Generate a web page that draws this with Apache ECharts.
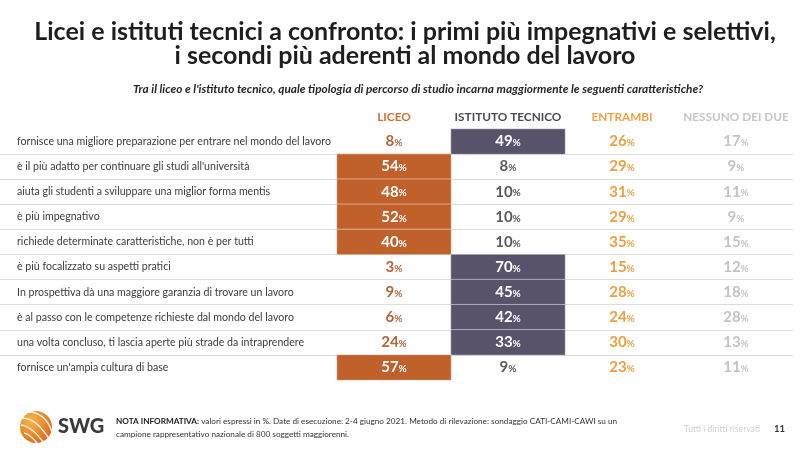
<!DOCTYPE html>
<html><head><meta charset="utf-8">
<script src="https://cdn.jsdelivr.net/npm/echarts@6/dist/echarts.min.js"></script>
<style>html,body{margin:0;padding:0;background:#fff}#c{width:800px;height:449px}</style>
</head><body><div id="c"></div>
<script>
var rows = [
  "fornisce una migliore preparazione per entrare nel mondo del lavoro",
  "è il più adatto per continuare gli studi all'università",
  "aiuta gli studenti a sviluppare una miglior forma mentis",
  "è più impegnativo",
  "richiede determinate caratteristiche, non è per tutti",
  "è più focalizzato su aspetti pratici",
  "In prospettiva dà una maggiore garanzia di trovare un lavoro",
  "è al passo con le competenze richieste dal mondo del lavoro",
  "una volta concluso, ti lascia aperte più strade da intraprendere",
  "fornisce un'ampia cultura di base"
];
var columns = ["LICEO", "ISTITUTO TECNICO", "ENTRAMBI", "NESSUNO DEI DUE"];
var liceo     = [8, 54, 48, 52, 40, 3, 9, 6, 24, 57];
var istituto  = [49, 8, 10, 10, 10, 70, 45, 42, 33, 9];
var entrambi  = [26, 29, 31, 29, 35, 15, 28, 24, 30, 23];
var nessuno   = [17, 9, 11, 9, 15, 12, 18, 28, 13, 11];

var FONT = 'Lato';
var headerColors = ['#c8733a', '#4a4a55', '#eba248', '#c6c6c6'];
var textColors = ['#b4653c', '#5a5a5a', '#e9a045', '#c4c4c4'];
var fillColors = ['#c0602a', '#58536a'];
var cols = [liceo, istituto, entrambi, nessuno];

var data = [];
for (var r = 0; r < rows.length; r++) {
  var mx = Math.max(liceo[r], istituto[r], entrambi[r], nessuno[r]);
  for (var c = 0; c < 4; c++) {
    var v = cols[c][r];
    var filled = c < 2 && v === mx;
    var col = filled ? '#ffffff' : textColors[c];
    data.push({
      value: [c, r, v],
      itemStyle: filled ? { color: fillColors[c], borderColor: 'rgba(255,255,255,0.45)', borderWidth: 1 }
                        : { color: 'rgba(0,0,0,0)', borderWidth: 0 },
      label: {
        rich: {
          v: { color: col, fontFamily: FONT, fontWeight: 'bold', fontSize: 15 },
          p: { color: col, fontFamily: FONT, fontWeight: 'bold', fontSize: 10, padding: [3, 0, 0, 0] }
        }
      }
    });
  }
}

var chart = echarts.init(document.getElementById('c'), null, { renderer: 'canvas' });
var split = { show: true, showMinLine: false, showMaxLine: false, interval: 0, lineStyle: { color: '#dcdcdc', width: 1 } };

chart.setOption({
  backgroundColor: '#ffffff',
  animation: false,
  title: [
    {
      text: 'Licei e istituti tecnici a confronto: i primi più impegnativi e selettivi,\ni secondi più aderenti al mondo del lavoro',
      left: 400, top: 15, textAlign: 'center',
      textStyle: { fontFamily: FONT, fontSize: 25, fontWeight: 'bold', color: '#1e1e1e', lineHeight: 24 }
    },
    {
      text: "Tra il liceo e l'istituto tecnico, quale tipologia di percorso di studio incarna maggiormente le seguenti caratteristiche?",
      left: 413, top: 78, textAlign: 'center',
      textStyle: { fontFamily: FONT, fontSize: 11.8, fontWeight: 'bold', fontStyle: 'italic', color: '#262626' }
    }
  ],
  grid: [
    { left: 0, top: 129, width: 337, height: 251 },
    { left: 337, top: 129, width: 456, height: 251 }
  ],
  xAxis: [
    { type: 'value', gridIndex: 0, show: false, min: 0, max: 1 },
    {
      type: 'category', gridIndex: 1, data: columns, position: 'top',
      axisLine: { show: false }, axisTick: { show: false }, splitLine: { show: false },
      axisLabel: {
        margin: 6, fontFamily: FONT, fontSize: 11.8, fontWeight: 'bold', interval: 0,
        color: function (val, idx) { return headerColors[columns.indexOf(val)]; }
      }
    }
  ],
  yAxis: [
    {
      type: 'category', gridIndex: 0, data: rows, inverse: true,
      axisLine: { show: false }, axisTick: { show: false },
      axisLabel: { inside: true, margin: 17, fontFamily: FONT, fontSize: 10.6, color: '#3c3c3c', interval: 0 },
      splitLine: split
    },
    {
      type: 'category', gridIndex: 1, data: rows, inverse: true,
      axisLine: { show: false }, axisTick: { show: false }, axisLabel: { show: false },
      splitLine: split
    }
  ],
  series: [{
    type: 'heatmap', xAxisIndex: 1, yAxisIndex: 1,
    data: data,
    label: {
      show: true,
      formatter: function (p) { return '{v|' + p.value[2] + '}{p|%}'; }
    },
    emphasis: { disabled: true }
  }],
  graphic: [
    { type: 'circle', shape: { cx: 36, cy: 427, r: 16 },
      style: { fill: new echarts.graphic.RadialGradient(0.35, 0.3, 0.8, [{ offset: 0, color: '#f6b648' }, { offset: 1, color: '#d9661c' }]) } },
    { type: 'bezierCurve', shape: { x1: 22, y1: 418, x2: 50, y2: 440, cpx1: 34, cpy1: 418, cpx2: 42, cpy2: 428 }, style: { stroke: 'rgba(255,255,255,0.85)', lineWidth: 1.5, fill: null } },
    { type: 'bezierCurve', shape: { x1: 21, y1: 425, x2: 44, y2: 443, cpx1: 30, cpy1: 426, cpx2: 37, cpy2: 434 }, style: { stroke: 'rgba(255,255,255,0.85)', lineWidth: 1.5, fill: null } },
    { type: 'bezierCurve', shape: { x1: 24, y1: 433, x2: 37, y2: 443, cpx1: 29, cpy1: 434, cpx2: 33, cpy2: 438 }, style: { stroke: 'rgba(255,255,255,0.85)', lineWidth: 1.5, fill: null } },
    { type: 'bezierCurve', shape: { x1: 28, y1: 412, x2: 52, y2: 432, cpx1: 40, cpy1: 412, cpx2: 48, cpy2: 420 }, style: { stroke: 'rgba(255,255,255,0.85)', lineWidth: 1.5, fill: null } },
    { type: 'text', left: 58, top: 417, style: { text: 'SWG', fontFamily: FONT, fontSize: 20, fontWeight: 900, fill: '#3a3a3a' } },
    { type: 'text', left: 116, top: 415, style: {
        text: '{b|NOTA INFORMATIVA:} valori espressi in %. Date di esecuzione: 2-4 giugno 2021. Metodo di rilevazione: sondaggio CATI-CAMI-CAWI su un\ncampione rappresentativo nazionale di 800 soggetti maggiorenni.',
        fontFamily: FONT, fontSize: 8.2, fill: '#333', lineHeight: 13,
        rich: { b: { fontFamily: FONT, fontSize: 8.2, fontWeight: 'bold', fill: '#222' } } } },
    { type: 'text', left: 684, top: 425, style: { text: 'Tutti i diritti riservati', fontFamily: FONT, fontSize: 8.6, fill: '#cfcfcf' } },
    { type: 'text', left: 774, top: 424, style: { text: '11', fontFamily: FONT, fontSize: 9.5, fontWeight: 'bold', fill: '#333' } }
  ]
});
</script>
</body></html>
